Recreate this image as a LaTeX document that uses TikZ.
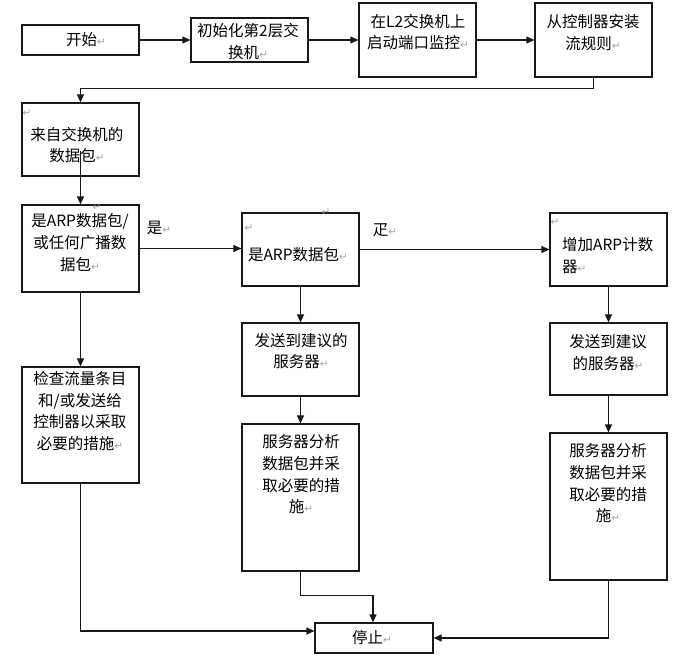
\documentclass[tikz,border=0pt]{standalone}
\usepackage{fontspec}
\setmainfont{Noto Sans CJK SC}
\newfontfamily\symf{DejaVu Sans}
\usetikzlibrary{arrows.meta,calc}
\definecolor{linec}{RGB}{25,25,25}
\definecolor{retgray}{RGB}{165,165,165}
\newcommand{\rt}{{\symf\fontsize{10.5}{10.5}\selectfont\color{retgray}↵}}
\tikzset{
  box/.style={draw=linec, line width=1.2pt, minimum width=117pt, inner sep=0pt},
  txt/.style={font=\fontsize{15.5}{21.7}\selectfont, align=center, inner sep=0pt, text=black},
  ret/.style={inner sep=0pt, font=\symf\fontsize{10.5}{10.5}\selectfont, text=retgray},
  arr/.style={draw=linec, line width=1.2pt, -{Triangle[length=8pt,width=7pt]}},
  ln/.style={draw=linec, line width=1.2pt}
}
\begin{document}
\begin{tikzpicture}[x=1pt,y=-1pt]
\useasboundingbox[fill=white] (0,0) rectangle (681,660);
% boxes
\node[box, minimum height=30pt] (b1) at (80.5,40) {};
\node[box, minimum height=44pt] (b2) at (249.5,40) {};
\node[box, minimum height=74pt] (b3) at (417.5,40) {};
\node[box, minimum height=74pt] (b4) at (593.5,40) {};
\node[box, minimum height=73pt] (b5) at (80.5,139.5) {};
\node[box, minimum height=87pt] (b6) at (80.5,248.5) {};
\node[box, minimum height=73pt] (b7) at (300.5,249.5) {};
\node[box, minimum height=73pt] (b8) at (608.5,249.5) {};
\node[box, minimum height=72pt] (b9) at (608.5,359) {};
\node[box, minimum height=147pt] (b10) at (608.5,506.5) {};
\node[box, minimum height=73pt] (b11) at (300.5,359.5) {};
\node[box, minimum height=147pt] (b12) at (300.5,497.5) {};
\node[box, minimum height=116pt] (b13) at (80.5,425) {};
\node[box, minimum height=30pt, minimum width=118pt] (stop) at (374,638) {};
% texts
\node[txt] (t1) at (86,40) {开始\rt};
\node[txt] (t2) at (248,41.5) {初始化第2层交\\换机\rt};
\node[txt] (t3) at (418,32) {在L2交换机上\\启动端口监控\rt};
\node[txt] (t4) at (593,32.5) {从控制器安装\\流规则\rt};
\node[ret] (r5) at (27,113) {↵};
\node[txt] (t5) at (77,145) {来自交换机的\\数据包\rt};
\node[ret] (r6) at (97,207) {↵};
\node[txt] (t6) at (80,242.5) {是ARP数据包/\\或任何广播数\\据包\rt};
\node[ret] (r7a) at (326,212) {↵};
\node[ret] (r7b) at (249,228) {↵};
\node[txt] (t7) at (298,255) {是ARP数据包\rt};
\node[ret] (r8) at (555,222) {↵};
\node[txt, align=left, anchor=west] (t8) at (562,255.5) {增加ARP计数\\器\rt};
\node[txt] (t9) at (608,352.5) {发送到建议\\的服务器\rt};
\node[txt] (t10) at (608,483.5) {服务器分析\\数据包并采\\取必要的措\\施\rt};
\node[txt] (t11) at (301,351) {发送到建议的\\服务器\rt};
\node[txt] (t12) at (301,474.5) {服务器分析\\数据包并采\\取必要的措\\施\rt};
\node[txt] (t13) at (80,411) {检查流量条目\\和/或发送给\\控制器以采取\\必要的措施\rt};
\node[txt] (tstop) at (372,638) {停止\rt};
\node[txt] (lyes) at (159,228) {是\rt};
\node[txt] (lno) at (385,230) {疋\rt};
% connectors
\draw[arr] (b1.east) -- (b2.west);
\draw[arr] (b2.east) -- (b3.west);
\draw[arr] (b3.east) -- (b4.west);
\draw[arr] (b4.south) -- ++(0,11) -| (b5.north);
\draw[arr] ($(b5.south)+(0,-26)$) -- (b6.north);
\draw[arr] (b6.east) -- (b6.east -| b7.west);
\draw[arr] (b7.east) -- (b8.west);
\draw[arr] (b8.south) -- (b9.north);
\draw[arr] (b9.south) -- (b10.north);
\draw[arr] (b7.south) -- (b11.north);
\draw[arr] (b11.south) -- (b12.north);
\draw[arr] (b6.south) -- (b13.north);
\draw[arr] (b12.south) -- ++(0,24) -| ($(stop.north)+(-1,0)$);
\draw[arr] (b10.south) |- (stop.east);
\draw[arr] (b13.south) |- ($(stop.west)+(0,-7)$);
\end{tikzpicture}
\end{document}
